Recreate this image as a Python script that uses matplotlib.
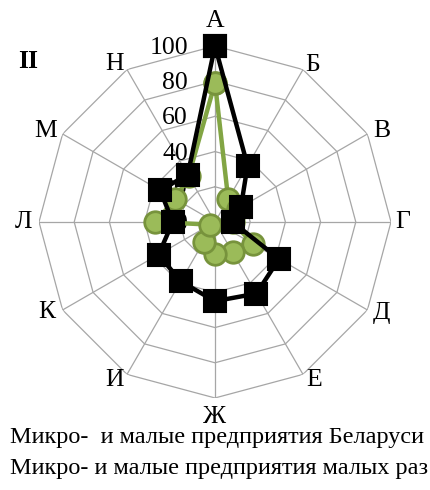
import numpy as np
import matplotlib
matplotlib.use('Agg')
from matplotlib import pyplot as plt

categories = ['А', 'Б', 'В', 'Г', 'Д', 'Е', 'Ж', 'И', 'К', 'Л', 'М', 'Н']
series_names = ['Микро-  и малые предприятия Беларуси',
                'Микро- и малые предприятия малых раз']
belarus = [79, 15, 15, 10, 25, 20, 18, 13, 3, 34, 26, 30]
small_countries = [100, 37, 17, 10, 42, 47, 45, 39, 37, 24, 36, 31]
r_ticks = [0, 20, 40, 60, 80, 100]
panel_label = 'II'

# label offsets from the outer vertex, in pixels (layout only)
label_off = [(0, 25), (10, 5), (14, 3), (12, 0), (14, -3), (11, -6),
             (0, -19), (-12, -6), (-16, -2), (-16, 0), (-17, 3), (-12, 6)]

plt.rcParams['font.family'] = ['Liberation Serif', 'DejaVu Serif']

fig = plt.figure(figsize=(4.3, 4.9), dpi=100)
ax = fig.add_axes([0.0907, 0.1878, 0.8186, 0.7184], projection='polar')
ax.set_theta_offset(np.pi / 2)
ax.set_theta_direction(-1)
ax.set_ylim(0, 100)
ax.grid(False)
ax.spines['polar'].set_visible(False)
ax.set_xticks([])
ax.set_yticks([])

n = len(categories)
theta = np.linspace(0, 2 * np.pi, n, endpoint=False)
theta_c = np.append(theta, theta[0])

grid_col = '#A6A6A6'
for lev in r_ticks[1:]:
    ax.plot(theta_c, [lev] * (n + 1), color=grid_col, lw=0.9, zorder=1)
for t in theta:
    ax.plot([t, t], [0, 100], color=grid_col, lw=0.9, zorder=1)

for v in r_ticks:
    ax.annotate(str(v), xy=(0, v), xytext=(-27, -2), textcoords='offset pixels',
                ha='right', va='center', fontsize=18.5, zorder=2)

for t, lab, off in zip(theta, categories, label_off):
    ax.annotate(lab, xy=(t, 100), xytext=off, textcoords='offset pixels',
                ha='center', va='center', fontsize=18.5, annotation_clip=False)

ax.plot(theta_c, belarus + belarus[:1], color='#82A544', lw=3.2,
        marker='o', ms=15.5, mfc='#9BBB59', mec='#77933C', mew=2,
        zorder=4, clip_on=False)
ax.plot(theta_c, small_countries + small_countries[:1], color='black', lw=3.2,
        marker='s', ms=15.5, mfc='black', mec='black', mew=1.5,
        zorder=5, clip_on=False)

fig.text(28 / 430, 1 - 62 / 490, panel_label, fontsize=18.5, fontweight='bold',
         ha='center', va='center')
fig.text(10 / 430, 1 - 443 / 490, series_names[0], fontsize=17.5, va='baseline')
fig.text(10 / 430, 1 - 474 / 490, series_names[1], fontsize=17.5, va='baseline')

fig.savefig('out.png', dpi=100)
